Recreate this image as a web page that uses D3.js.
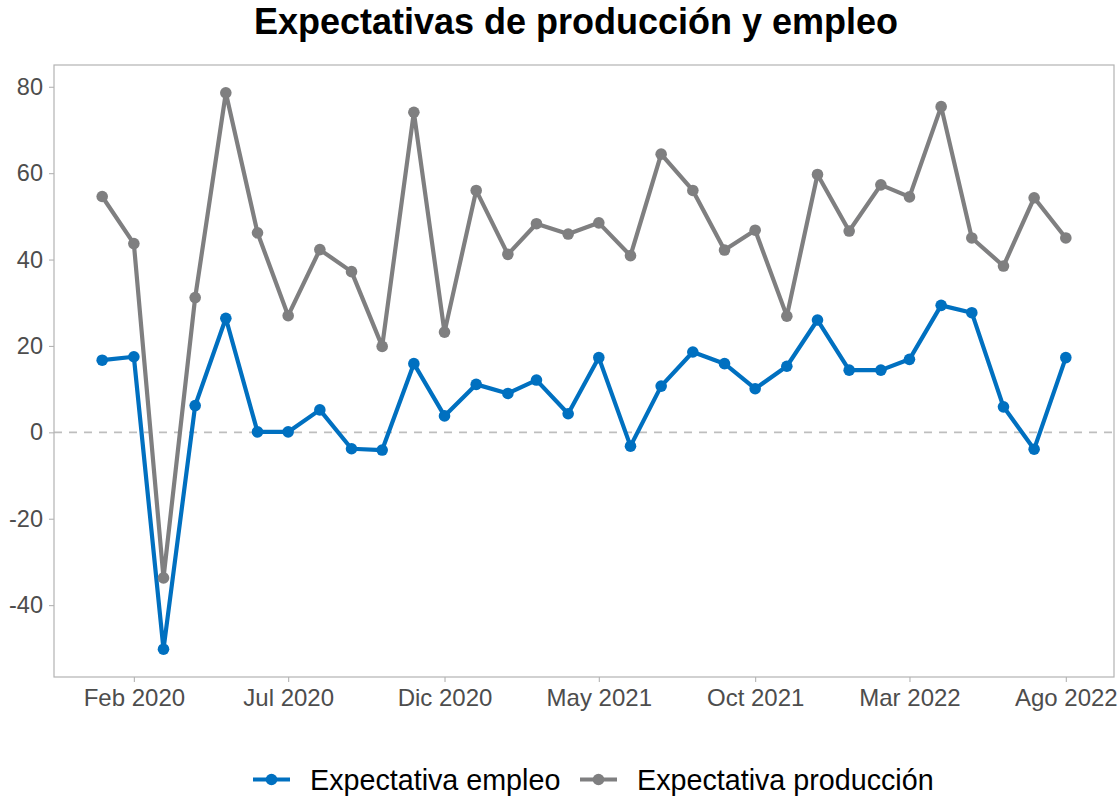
<!DOCTYPE html>
<html>
<head>
<meta charset="utf-8">
<script src="https://cdn.jsdelivr.net/npm/d3@7"></script>
<style>
  html, body { margin: 0; padding: 0; background: #fff; }
  svg { display: block; font-family: "Liberation Sans", Arial, sans-serif; }
</style>
</head>
<body>
<svg id="chart" width="1118" height="797"></svg>
<script>
// ---- Data ----
const months = ["2020-01","2020-02","2020-03","2020-04","2020-05","2020-06","2020-07","2020-08","2020-09","2020-10","2020-11","2020-12",
                "2021-01","2021-02","2021-03","2021-04","2021-05","2021-06","2021-07","2021-08","2021-09","2021-10","2021-11","2021-12",
                "2022-01","2022-02","2022-03","2022-04","2022-05","2022-06","2022-07","2022-08"];
const empleo = [16.7, 17.5, -50.2, 6.2, 26.4, 0.1, 0.1, 5.2, -3.8, -4.1, 15.9, 3.8,
                11.1, 9.0, 12.1, 4.3, 17.3, -3.2, 10.7, 18.6, 15.9, 10.1, 15.3, 26.0,
                14.4, 14.4, 16.9, 29.4, 27.7, 5.9, -3.9, 17.3];
const produccion = [54.6, 43.7, -33.7, 31.2, 78.6, 46.2, 27.0, 42.3, 37.2, 19.9, 74.1, 23.2,
                    56.0, 41.2, 48.3, 45.9, 48.5, 40.9, 64.4, 56.0, 42.2, 46.8, 26.9, 59.7,
                    46.6, 57.3, 54.5, 75.4, 45.0, 38.5, 54.3, 45.0];
const seriesNames = ["Expectativa empleo", "Expectativa producción"];
const seriesColors = ["#0070C0", "#7F7F80"];
const xTickDates = ["2020-02","2020-07","2020-12","2021-05","2021-10","2022-03","2022-08"];
const xTickLabels = ["Feb 2020","Jul 2020","Dic 2020","May 2021","Oct 2021","Mar 2022","Ago 2022"];
const yTicks = [-40, -20, 0, 20, 40, 60, 80];
const titleText = "Expectativas de producción y empleo";

// ---- Layout ----
const svg = d3.select("#chart");
const panel = { left: 54, right: 1114, top: 65, bottom: 677 };
const parse = d3.timeParse("%Y-%m");
const dates = months.map(parse);

const x0 = d3.extent(dates);
const span = x0[1] - x0[0];
const x = d3.scaleTime()
  .domain([new Date(+x0[0] - span * 0.05), new Date(+x0[1] + span * 0.05)])
  .range([panel.left, panel.right]);

const allVals = empleo.concat(produccion);
const yExt = d3.extent(allVals);
const ySpan = yExt[1] - yExt[0];
const y = d3.scaleLinear()
  .domain([yExt[0] - ySpan * 0.05, yExt[1] + ySpan * 0.05])
  .range([panel.bottom, panel.top]);

// Title
svg.append("text")
  .attr("x", 576).attr("y", 33.5)
  .attr("text-anchor", "middle")
  .attr("font-size", 36).attr("font-weight", "bold").attr("fill", "#000")
  .text(titleText);

// Zero line
svg.append("line")
  .attr("x1", panel.left).attr("x2", panel.right)
  .attr("y1", y(0)).attr("y2", y(0))
  .attr("stroke", "#BEBEBE").attr("stroke-width", 1.6)
  .attr("stroke-dasharray", "8,7");

// Panel border
svg.append("rect")
  .attr("x", panel.left).attr("y", panel.top)
  .attr("width", panel.right - panel.left).attr("height", panel.bottom - panel.top)
  .attr("fill", "none").attr("stroke", "#B3B3B3").attr("stroke-width", 1.2);

// Y axis
const yAxis = svg.append("g")
  .attr("transform", `translate(${panel.left},0)`)
  .call(d3.axisLeft(y).tickValues(yTicks).tickSize(5).tickPadding(6).tickFormat(d3.format("d")));
yAxis.select(".domain").remove();
yAxis.selectAll(".tick line").attr("stroke", "#B3B3B3").attr("stroke-width", 1.1);
yAxis.selectAll(".tick text").attr("font-size", 23.5).attr("fill", "#4D4D4D")
  .attr("font-family", "Liberation Sans, Arial, sans-serif").text(d => d < 0 ? "-" + Math.abs(d) : d);

// X axis
const xTicks = xTickDates.map(parse);
const xAxis = svg.append("g")
  .attr("transform", `translate(0,${panel.bottom})`)
  .call(d3.axisBottom(x).tickValues(xTicks).tickSize(5).tickPadding(7)
    .tickFormat((d, i) => xTickLabels[i]));
xAxis.select(".domain").remove();
xAxis.selectAll(".tick line").attr("stroke", "#B3B3B3").attr("stroke-width", 1.1);
xAxis.selectAll(".tick text").attr("font-size", 24).attr("fill", "#4D4D4D")
  .attr("font-family", "Liberation Sans, Arial, sans-serif");

// Lines and points
const seriesData = [empleo, produccion];
const line = d3.line().x(d => x(d.date)).y(d => y(d.value));
const order = [0, 1];
order.forEach(si => {
  const pts = seriesData[si].map((v, i) => ({ date: dates[i], value: v }));
  const g = svg.append("g");
  g.append("path").datum(pts)
    .attr("d", line).attr("fill", "none")
    .attr("stroke", seriesColors[si]).attr("stroke-width", 4.2)
    .attr("stroke-linejoin", "round");
  g.selectAll("circle").data(pts).enter().append("circle")
    .attr("cx", d => x(d.date)).attr("cy", d => y(d.value))
    .attr("r", 5.8).attr("fill", seriesColors[si]);
});

// Legend
const legendY = 779.5;
const legendItems = [
  { x: 253, textX: 310, name: seriesNames[0], color: seriesColors[0] },
  { x: 580, textX: 637, name: seriesNames[1], color: seriesColors[1] }
];
const lg = svg.append("g");
legendItems.forEach(it => {
  lg.append("line").attr("x1", it.x).attr("x2", it.x + 37)
    .attr("y1", legendY).attr("y2", legendY)
    .attr("stroke", it.color).attr("stroke-width", 4.2);
  lg.append("circle").attr("cx", it.x + 18.5).attr("cy", legendY).attr("r", 5.8).attr("fill", it.color);
  lg.append("text").attr("x", it.textX).attr("y", legendY).attr("dy", "0.35em")
    .attr("font-size", 28.7).attr("fill", "#000").text(it.name);
});
</script>
</body>
</html>
